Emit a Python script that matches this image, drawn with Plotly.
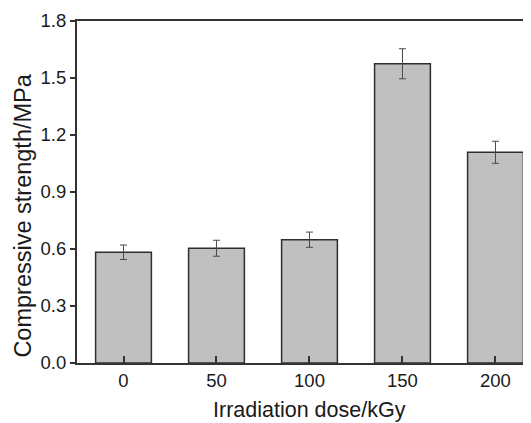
import plotly.graph_objects as go

categories = ["0", "50", "100", "150", "200"]
strength = [0.583, 0.604, 0.649, 1.575, 1.109]
errors = [0.038, 0.042, 0.040, 0.079, 0.058]
y_ticks = [0.0, 0.3, 0.6, 0.9, 1.2, 1.5, 1.8]

xpos = list(range(len(categories)))

fig = go.Figure(go.Bar(
    x=xpos, y=strength, width=0.6,
    marker=dict(color="#c0c0c0", line=dict(color="#2e2e2e", width=1.5)),
    error_y=dict(type="data", array=errors, visible=True, color="#4a4a4a",
                 thickness=1, width=3.5),
))

font = "Liberation Sans, Arial, sans-serif"
fig.update_layout(
    width=523, height=415,
    margin=dict(l=69, r=0, t=13, b=60),
    paper_bgcolor="white", plot_bgcolor="white",
    showlegend=False,
    font=dict(family=font, color="#1a1a1a"),
    xaxis=dict(
        range=[-0.5, 4.382], tickvals=xpos, ticktext=categories,
        showline=True, linecolor="#333333", linewidth=2, mirror=True,
        ticks="inside", ticklen=7, tickwidth=1.5, tickcolor="#333333",
        tickfont=dict(size=18.5), showgrid=False, zeroline=False,
    ),
    yaxis=dict(
        range=[0, 1.8], tickvals=y_ticks, tickformat=".1f",
        showline=True, linecolor="#333333", linewidth=2, mirror=False,
        ticks="outside", ticklen=5, tickwidth=1.5, tickcolor="#333333",
        tickfont=dict(size=18.5), showgrid=False, zeroline=False,
    ),
    annotations=[
        dict(text="Irradiation dose/kGy", xref="x", x=2, yref="paper", y=0,
             yshift=-47, xanchor="center", yanchor="middle", showarrow=False,
             font=dict(size=21.5)),
        dict(text="Compressive strength/MPa", xref="paper", x=0, xshift=-54,
             yref="paper", y=0.431, textangle=-90, xanchor="center",
             yanchor="middle", showarrow=False, font=dict(size=23.5)),
    ],
)

fig.write_html("out.html")
